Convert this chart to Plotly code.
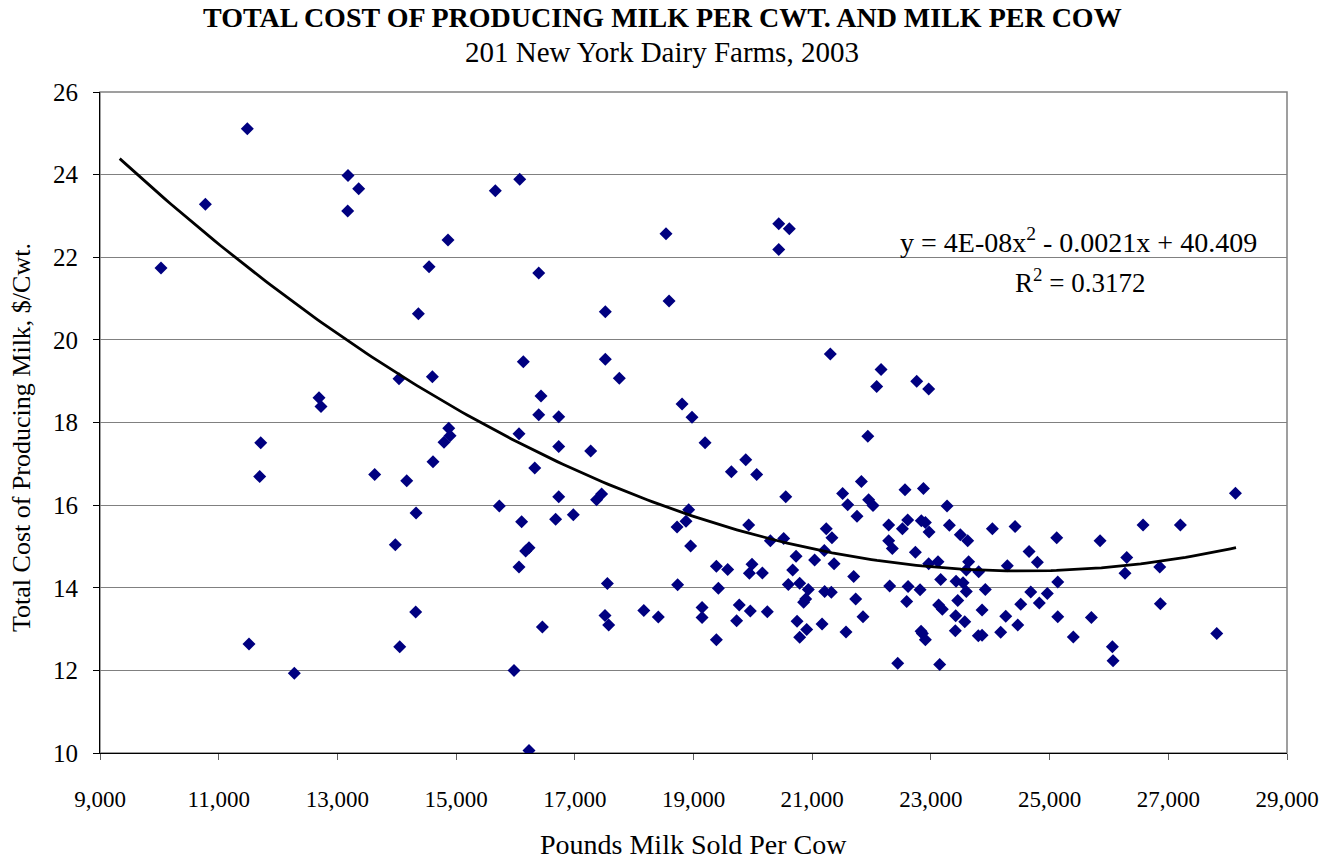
import numpy as np
import plotly.graph_objects as go

# Pounds milk sold per cow (x) and total cost per cwt (y)
milk_per_cow = [
    11482, 10775, 10028, 13179, 13359, 13173, 12690, 12724, 14038,
    14544, 14864, 14364, 15661, 16072, 16392, 17514, 18537, 18588, 16133,
    14600, 17514, 17750, 16431, 16392, 16729, 18807, 18975,
    20436, 20614, 20436, 21305, 22160, 22087, 22761, 22963,
    11708, 11691, 13628, 13976, 11511, 12274, 14050, 14168,
    14876, 14898, 14796, 14611, 14325, 14319, 16060, 16729, 17268, 16325,
    16729, 15728, 16104, 16677, 16975, 17367, 17452, 16228, 16172, 16060,
    17549, 18733, 17509, 17571, 16454, 18163, 18407, 15976, 16228, 18919,
    18874, 18723, 18952, 19195, 19144, 19144,
    19880, 19638, 20065, 20554, 21937, 21829, 21513, 21598, 21951, 22025,
    21755, 22564, 22874, 23272, 22289, 22520, 22609, 22839, 22907, 22969,
    23311, 23496, 23620, 24036, 22289, 22350, 22738, 22963, 23120, 23636,
    23597, 23805, 23165, 23424, 23542, 23597, 23917, 22306, 22615, 22817,
    22592, 23452, 23130, 23192, 23418, 23570, 23862, 24261, 23411, 23799,
    23862, 24176, 22834, 22856, 22907, 22441, 23148, 24288, 19385, 19576,
    19419, 19385, 19771, 19727, 19957, 20244, 19930, 19986, 19941, 20160,
    20295, 20520, 20728, 20671, 20598, 20789, 20935, 20890, 20856, 21041,
    21237, 21333, 21204, 21368, 21210, 21322, 21699, 21733, 21856, 21570,
    21166, 20745, 20907, 20789,
    28131, 24418, 25120, 25850, 26575, 27203, 24654, 24794, 26300, 26271,
    26856, 26866, 27816, 26058, 26069, 25137, 24682, 24962, 24827, 24514,
    24463, 25137, 25704, 25400,
]
cost_per_cwt = [
    25.11, 23.28, 21.74, 23.98, 23.66, 23.12, 18.60, 18.39, 19.06,
    21.77, 22.42, 20.63, 23.61, 23.89, 21.62, 20.68, 22.57, 20.94, 19.47,
    19.11, 19.53, 19.07, 18.64, 18.19, 18.14, 18.45, 18.13,
    22.81, 22.69, 22.19, 19.66, 19.28, 18.87, 19.00, 18.81,
    17.51, 16.69, 16.74, 15.04, 12.64, 11.93, 12.57, 16.59,
    17.86, 17.68, 17.52, 17.05, 15.81, 13.41, 17.73, 17.42, 17.31, 16.90,
    16.20, 15.98, 15.60, 15.66, 15.77, 16.13, 16.27, 14.97, 14.89, 14.50,
    14.10, 14.07, 13.33, 13.10, 13.05, 13.45, 13.29, 12.00, 10.06, 15.89,
    15.61, 15.47, 15.01, 17.51, 13.52, 13.28,
    17.10, 16.81, 16.74, 16.20, 17.67, 16.57, 16.28, 16.01, 16.13, 15.99,
    15.73, 16.37, 16.40, 15.98, 15.52, 15.43, 15.64, 15.62, 15.58, 15.35,
    15.51, 15.28, 15.14, 15.43, 15.14, 14.95, 14.86, 14.58, 14.63, 14.63,
    14.43, 14.39, 14.20, 14.16, 14.12, 13.91, 13.96, 14.04, 14.03, 13.95,
    13.67, 13.69, 13.58, 13.48, 13.32, 13.18, 13.46, 13.31, 12.96, 12.84,
    12.85, 12.92, 12.95, 12.89, 12.74, 12.17, 12.14, 14.53, 14.52, 14.44,
    13.99, 12.74, 13.58, 13.20, 13.44, 13.42, 15.52, 14.57, 14.35, 14.36,
    15.14, 15.19, 14.76, 14.43, 14.08, 14.11, 13.96, 13.73, 13.65, 14.67,
    15.43, 15.21, 14.90, 14.58, 13.91, 13.89, 14.27, 13.73, 13.30, 12.93,
    13.12, 13.19, 12.99, 12.80,
    16.29, 15.48, 15.21, 15.14, 15.52, 15.52, 14.88, 14.62, 14.73, 14.35,
    14.50, 13.61, 12.89, 12.57, 12.23, 14.14, 13.90, 13.86, 13.63, 13.60,
    13.10, 13.30, 13.28, 12.81,
]
# Excel's quadratic trendline (its fit includes farms outside the plotted range),
# coefficients estimated from the drawn curve
trend_coef = [4.321e-8, -0.00212, 40.409]
trend_range = [9332, 28141]
equation_text = "y = 4E-08x<sup>2</sup> - 0.0021x + 40.409"
r2_text = "R<sup>2</sup> = 0.3172"

tx = np.linspace(trend_range[0], trend_range[1], 200)
ty = np.polyval(trend_coef, tx)

font = "Liberation Serif, Times New Roman, serif"

fig = go.Figure()
fig.add_trace(go.Scatter(
    x=milk_per_cow, y=cost_per_cwt, mode="markers",
    marker=dict(symbol="diamond", size=10, color="#000080"),
    showlegend=False,
))
fig.add_trace(go.Scatter(
    x=tx, y=ty, mode="lines",
    line=dict(color="black", width=2.8),
    showlegend=False,
))

# gray outer frame of plot area
fig.add_shape(type="rect", xref="paper", yref="paper", x0=0, y0=0, x1=1, y1=1,
              line=dict(color="#808080", width=1.5), layer="below")

# page body adds an 8px margin, so the figure is sized to fit the window
fig.update_layout(
    width=1327, height=850,
    margin=dict(l=92, r=48, t=84, b=105),
    paper_bgcolor="white", plot_bgcolor="white",
    font=dict(family=font, size=23, color="black"),
    xaxis=dict(
        range=[9000, 29000], dtick=2000, tick0=9000, tickformat=",d",
        showgrid=False, zeroline=False, automargin=False,
        showline=True, linecolor="black", linewidth=1,
        ticks="outside", ticklen=6, tickcolor="#606060",
        ticklabelstandoff=19,
        tickfont=dict(size=23),
    ),
    yaxis=dict(
        range=[10, 26], dtick=2, tick0=10,
        showgrid=True, gridcolor="#808080", gridwidth=1, zeroline=False,
        automargin=False,
        showline=True, linecolor="black", linewidth=1,
        ticks="outside", ticklen=6, tickcolor="black",
        ticklabelstandoff=10,
        tickfont=dict(size=25),
    ),
    annotations=[
        dict(text="<b>TOTAL COST OF PRODUCING MILK PER CWT. AND MILK PER COW</b>",
             xref="paper", yref="paper", x=0.4735, y=1.112,
             showarrow=False, xanchor="center", yanchor="middle",
             font=dict(family=font, size=28)),
        dict(text="201 New York Dairy Farms, 2003",
             xref="paper", yref="paper", x=0.4735, y=1.0605,
             showarrow=False, xanchor="center", yanchor="middle",
             font=dict(family=font, size=29)),
        dict(text="Pounds Milk Sold Per Cow",
             xref="paper", yref="paper", x=0.4996, y=-0.139,
             showarrow=False, xanchor="center", yanchor="middle",
             font=dict(family=font, size=28)),
        dict(text="Total Cost of Producing Milk, $/Cwt.",
             xref="paper", yref="paper", x=-0.0657, y=0.4766, textangle=-90,
             showarrow=False, xanchor="center", yanchor="middle",
             font=dict(family=font, size=26)),
        dict(text=equation_text, xref="paper", yref="paper", x=0.824, y=0.776,
             showarrow=False, xanchor="center", yanchor="middle",
             font=dict(family=font, size=28)),
        dict(text=r2_text, xref="paper", yref="paper", x=0.826, y=0.714,
             showarrow=False, xanchor="center", yanchor="middle",
             font=dict(family=font, size=27)),
    ],
)

fig.write_html("out.html")
